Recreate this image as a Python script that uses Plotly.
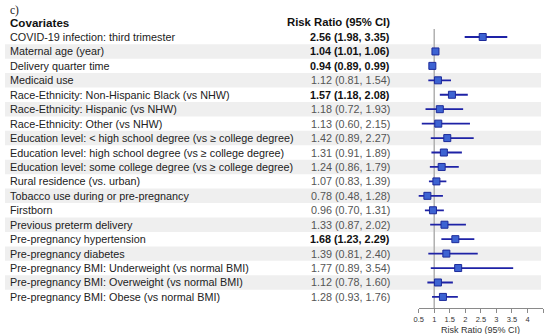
import plotly.graph_objects as go

labels = [
    "COVID-19 infection: third trimester",
    "Maternal age (year)",
    "Delivery quarter time",
    "Medicaid use",
    "Race-Ethnicity: Non-Hispanic Black (vs NHW)",
    "Race-Ethnicity: Hispanic (vs NHW)",
    "Race-Ethnicity: Other (vs NHW)",
    "Education level: < high school degree (vs \u2265 college degree)",
    "Education level: high school degree (vs \u2265 college degree)",
    "Education level: some college degree (vs \u2265 college degree)",
    "Rural residence (vs. urban)",
    "Tobacco use during or pre-pregnancy",
    "Firstborn",
    "Previous preterm delivery",
    "Pre-pregnancy hypertension",
    "Pre-pregnancy diabetes",
    "Pre-pregnancy BMI: Underweight (vs normal BMI)",
    "Pre-pregnancy BMI: Overweight (vs normal BMI)",
    "Pre-pregnancy BMI: Obese (vs normal BMI)",
]
rr = [2.56, 1.04, 0.94, 1.12, 1.57, 1.18, 1.13, 1.42, 1.31, 1.24, 1.07, 0.78, 0.96, 1.33, 1.68, 1.39, 1.77, 1.12, 1.28]
lo = [1.98, 1.01, 0.89, 0.81, 1.18, 0.72, 0.60, 0.89, 0.91, 0.86, 0.83, 0.48, 0.70, 0.87, 1.23, 0.81, 0.89, 0.78, 0.93]
hi = [3.35, 1.06, 0.99, 1.54, 2.08, 1.93, 2.15, 2.27, 1.89, 1.79, 1.39, 1.28, 1.31, 2.02, 2.29, 2.40, 3.54, 1.60, 1.76]
bold = [True, True, True, False, True, False, False, False, False, False, False, False, False, False, True, False, False, False, False]
tick_vals = [0.5, 1, 1.5, 2, 2.5, 3, 3.5, 4, 4.5]
tick_text = ["0.5", "1", "1.5", "2", "2.5", "3", "3.5", "4", "4.5"]

W, H = 546, 334
n = len(labels)
rows = list(range(n))
row0_px, row_step = 37.0, 14.44
axis_px = 308.0
y_top = (0 - row0_px) / row_step
y_bot = (axis_px - row0_px) / row_step

def py(p):
    return (p - row0_px) / row_step

fig = go.Figure()

fig.add_trace(go.Scatter(
    x=rr, y=rows, mode="markers",
    marker=dict(symbol="square", size=7, color="#3d63d2", line=dict(color="#1c2a9a", width=1)),
    error_x=dict(type="data", symmetric=False,
                 array=[h - r for h, r in zip(hi, rr)],
                 arrayminus=[r - l for r, l in zip(rr, lo)],
                 color="#1e22a6", thickness=1.8, width=0),
    hoverinfo="skip", showlegend=False,
))

shapes = []
for i in rows:
    if i % 2 == 1:
        shapes.append(dict(type="rect", xref="paper", yref="y", x0=0, x1=541 / W,
                           y0=i - 0.5, y1=i + 0.5, fillcolor="#efefef", line=dict(width=0), layer="below"))
shapes.append(dict(type="line", xref="x", yref="y", x0=1, x1=1, y0=py(29), y1=y_bot,
                   line=dict(color="#b0b0b0", width=1.5), layer="below"))

ann = []
font = "Liberation Sans, Arial, sans-serif"
ann.append(dict(x=3 / W, y=py(10), xref="paper", yref="y", text="c)", showarrow=False,
                xanchor="left", yanchor="middle", font=dict(family="Liberation Serif, Times New Roman, serif", size=11.5, color="#222")))
ann.append(dict(x=3 / W, y=py(22), xref="paper", yref="y", text="<b>Covariates</b>", showarrow=False,
                xanchor="left", yanchor="middle", font=dict(family=font, size=11.6, color="#111")))
ann.append(dict(x=391 / W, y=py(22), xref="paper", yref="y", text="<b>Risk Ratio (95% CI)</b>", showarrow=False,
                xanchor="right", yanchor="middle", font=dict(family=font, size=11.3, color="#111")))
for i in rows:
    ann.append(dict(x=3 / W, y=i, xref="paper", yref="y", text=labels[i], showarrow=False,
                    xanchor="left", yanchor="middle", font=dict(family=font, size=10.8, color="#222")))
    t = f"{rr[i]:.2f} ({lo[i]:.2f}, {hi[i]:.2f})"
    if bold[i]:
        t = f"<b>{t}</b>"
    ann.append(dict(x=391 / W, y=i, xref="paper", yref="y", text=t, showarrow=False,
                    xanchor="right", yanchor="middle",
                    font=dict(family=font, size=10.8, color="#111" if bold[i] else "#555")))
ann.append(dict(x=480 / W, y=(H - 329.5) / H, xref="paper", yref="paper", text="Risk Ratio (95% CI)",
                showarrow=False, xanchor="center", yanchor="middle",
                font=dict(family=font, size=9, color="#333")))

fig.update_layout(
    width=W, height=H,
    margin=dict(l=0, r=0, t=0, b=0),
    paper_bgcolor="white", plot_bgcolor="rgba(0,0,0,0)",
    shapes=shapes, annotations=ann,
    xaxis=dict(domain=[417.5 / W, 543 / W], range=[0.5, 4.5], tickmode="array",
               tickvals=tick_vals, ticktext=tick_text, showgrid=False, zeroline=False,
               showline=True, linecolor="#8a8a8a", linewidth=1, ticks="outside", ticklen=4,
               tickcolor="#8a8a8a", tickfont=dict(family=font, size=7.5, color="#333")),
    yaxis=dict(domain=[(H - axis_px) / H, 1], range=[y_bot, y_top], showgrid=False, zeroline=False,
               showticklabels=False, showline=False),
)

fig.write_html("out.html")
